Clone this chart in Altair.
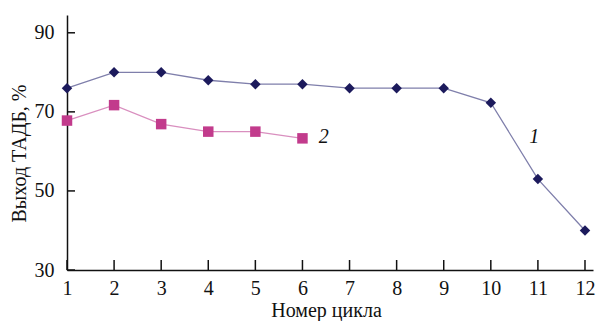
import altair as alt
import pandas as pd

cycles1 = [1, 2, 3, 4, 5, 6, 7, 8, 9, 10, 11, 12]
yield1 = [76, 80, 80, 78, 77, 77, 76, 76, 76, 72.3, 53, 40]
cycles2 = [1, 2, 3, 4, 5, 6]
yield2 = [67.8, 71.7, 66.9, 65, 65, 63.3]

x_ticks = list(range(1, 13))
y_ticks = [30, 50, 70, 90]

label_text = ["2", "1"]
label_x = [6.45, 10.92]
label_y = [63.6, 63.6]

FONT = "Liberation Serif"

df1 = pd.DataFrame({"x": cycles1, "y": yield1})
df2 = pd.DataFrame({"x": cycles2, "y": yield2})
dfl = pd.DataFrame({"t": label_text, "x": label_x, "y": label_y})
dfxt = pd.DataFrame({"x": x_ticks})
dfyt = pd.DataFrame({"y": y_ticks})

xs = alt.Scale(domain=[1, 12.17], nice=False, zero=False)
ys = alt.Scale(domain=[30, 94.5], nice=False, zero=False)

xaxis = alt.Axis(values=x_ticks, ticks=False, tickSize=0, grid=False,
                 domainColor="#111111", domainWidth=1.5,
                 labelFont=FONT, labelFontSize=20, labelColor="#111111",
                 labelPadding=8, labelFlush=False,
                 title="Номер цикла", titleFont=FONT, titleFontSize=20,
                 titleFontWeight="normal", titleColor="#111111",
                 titleX=259, titleY=46, titleAnchor="start", titleAlign="center",
                 titleBaseline="alphabetic")
yaxis = alt.Axis(values=y_ticks, ticks=False, tickSize=0, grid=False,
                 domainColor="#111111", domainWidth=1.5,
                 labelFont=FONT, labelFontSize=20, labelColor="#111111",
                 labelPadding=13, labelFlush=False,
                 title="Выход ТАДБ, %", titleFont=FONT, titleFontSize=20,
                 titleFontWeight="normal", titleColor="#111111",
                 titleX=-48, titleY=138, titleAngle=-90, titleAlign="center",
                 titleBaseline="middle")

line1 = alt.Chart(df1).mark_line(color="#7f7fab", strokeWidth=1.3).encode(
    x=alt.X("x:Q", scale=xs, axis=xaxis),
    y=alt.Y("y:Q", scale=ys, axis=yaxis),
)
pts1 = alt.Chart(df1).mark_point(shape="diamond", filled=True, size=110,
                                 color="#1c1a5c", opacity=1).encode(
    x=alt.X("x:Q", scale=xs), y=alt.Y("y:Q", scale=ys))
line2 = alt.Chart(df2).mark_line(color="#d98fbf", strokeWidth=1.3).encode(
    x=alt.X("x:Q", scale=xs), y=alt.Y("y:Q", scale=ys))
pts2 = alt.Chart(df2).mark_point(shape="square", filled=True, size=110,
                                 color="#c23b8c", opacity=1).encode(
    x=alt.X("x:Q", scale=xs), y=alt.Y("y:Q", scale=ys))

labels = alt.Chart(dfl).mark_text(font=FONT, fontSize=20, fontStyle="italic",
                                  color="#111111").encode(
    x=alt.X("x:Q", scale=xs), y=alt.Y("y:Q", scale=ys), text="t:N")

xt = alt.Chart(dfxt).mark_rule(color="#111111", strokeWidth=1.5).encode(
    x=alt.X("x:Q", scale=xs), y=alt.value(255), y2=alt.value(245))
yt = alt.Chart(dfyt).mark_rule(color="#111111", strokeWidth=1.5).encode(
    y=alt.Y("y:Q", scale=ys), x=alt.value(0), x2=alt.value(8))

chart = alt.layer(line1, line2, xt, yt, pts1, pts2, labels).properties(
    width=526, height=255,
    autosize=alt.AutoSizeParams(type="none"),
    padding={"left": 59, "top": 7, "right": 3, "bottom": 51},
    background="white",
).configure_view(stroke=None)

chart.save("out.html", embed_options={"renderer": "svg", "actions": False})
